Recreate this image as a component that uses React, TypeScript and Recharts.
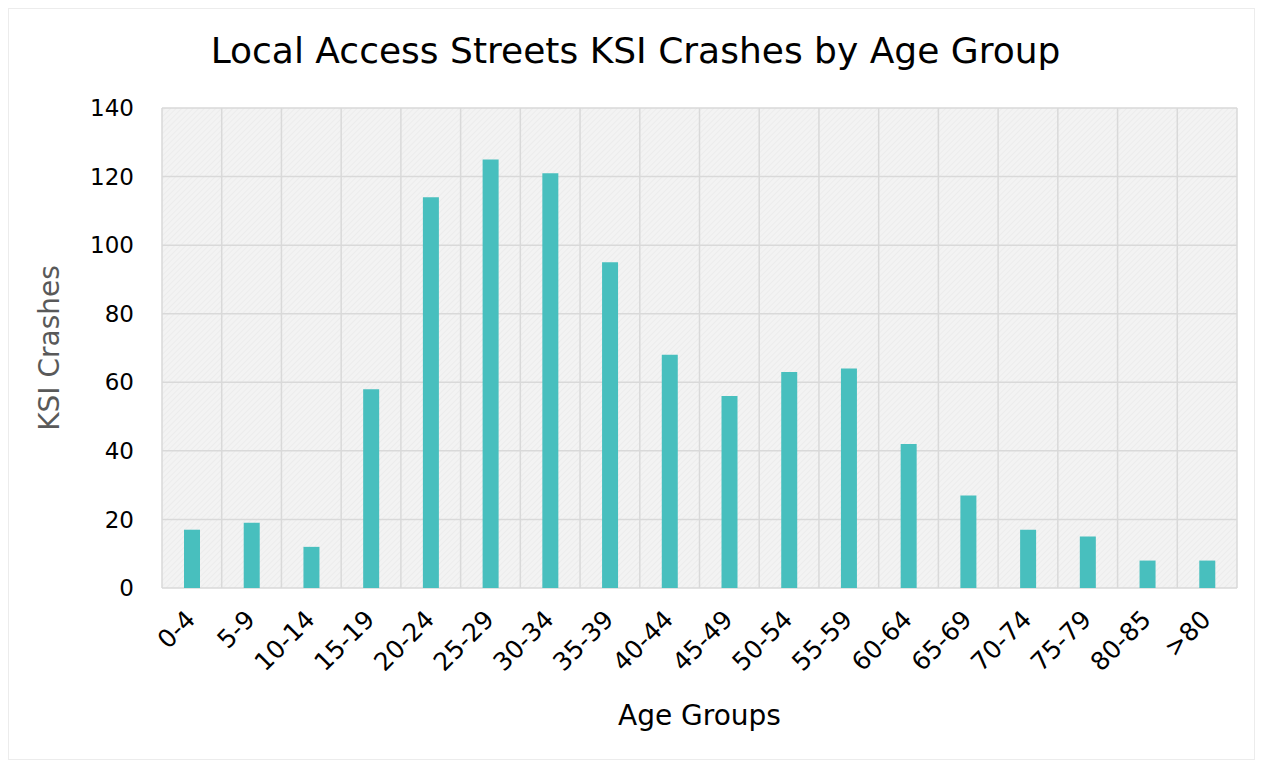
import React from "react";
import { BarChart, Bar, XAxis, YAxis, CartesianGrid, Label } from "recharts";

const categories = ["0-4","5-9","10-14","15-19","20-24","25-29","30-34","35-39","40-44","45-49","50-54","55-59","60-64","65-69","70-74","75-79","80-85",">80"];
const crashes = [17,19,12,58,114,125,121,95,68,56,63,64,42,27,17,15,8,8];
const yTicks = [0,20,40,60,80,100,120,140];

const data = categories.map((c, i) => ({ age: c, ksi: crashes[i] }));

const FONT = "'DejaVu Sans', sans-serif";

const XTick = (props: any) => {
  const { x, y, payload } = props;
  return (
    <g transform={`translate(${x - 8},${y + 12})`}>
      <text transform="rotate(-45)" textAnchor="end" dominantBaseline="hanging" fontSize={25} fill="#000" fontFamily={FONT}>
        {payload.value}
      </text>
    </g>
  );
};

export default function App() {
  const W = 1247;
  const H = 750;
  return (
    <div style={{ position: "relative", width: W - 2, height: H, border: "1px solid #ececec", fontFamily: FONT }}>
      <div style={{ position: "absolute", left: 0, top: 21, width: W - 2 + 8, textAlign: "center", fontSize: 36, color: "#000" }}>
        Local Access Streets KSI Crashes by Age Group
      </div>
      <BarChart width={W - 2} height={H} data={data} margin={{ top: 99, right: 17, left: 0, bottom: 0 }}>
        <defs>
          <pattern id="hatch" width="4" height="4" patternUnits="userSpaceOnUse" patternTransform="rotate(45)">
            <rect width="4" height="4" fill="#f3f3f3" />
            <line x1="0" y1="0" x2="0" y2="4" stroke="#e6e6e6" strokeWidth="1" />
          </pattern>
        </defs>
        <CartesianGrid
          stroke="#d9d9d9"
          strokeWidth={1.5}
          fill="url(#hatch)"
          fillOpacity={1}
          verticalCoordinatesGenerator={({ offset }: any) =>
            categories.map((_, i) => offset.left + (i * offset.width) / categories.length).concat([offset.left + offset.width])
          }
        />
        <XAxis
          dataKey="age"
          interval={0}
          axisLine={false}
          tickLine={false}
          tick={<XTick />}
          height={171}
        >
          <Label value="Age Groups" position="insideBottom" offset={34} style={{ fontSize: 28, fill: "#000", fontFamily: FONT }} />
        </XAxis>
        <YAxis
          domain={[0, 140]}
          ticks={yTicks}
          width={153}
          axisLine={false}
          tickLine={false}
          tickSize={0}
          tickMargin={28}
          tick={{ fontSize: 23, fill: "#000", fontFamily: FONT }}
        >
          <Label value="KSI Crashes" angle={-90} position="insideLeft" offset={40} style={{ fontSize: 28, fill: "#595959", fontFamily: FONT, textAnchor: "middle" }} />
        </YAxis>
        <Bar dataKey="ksi" fill="#48bfbe" barSize={16} isAnimationActive={false} />
      </BarChart>
    </div>
  );
}
